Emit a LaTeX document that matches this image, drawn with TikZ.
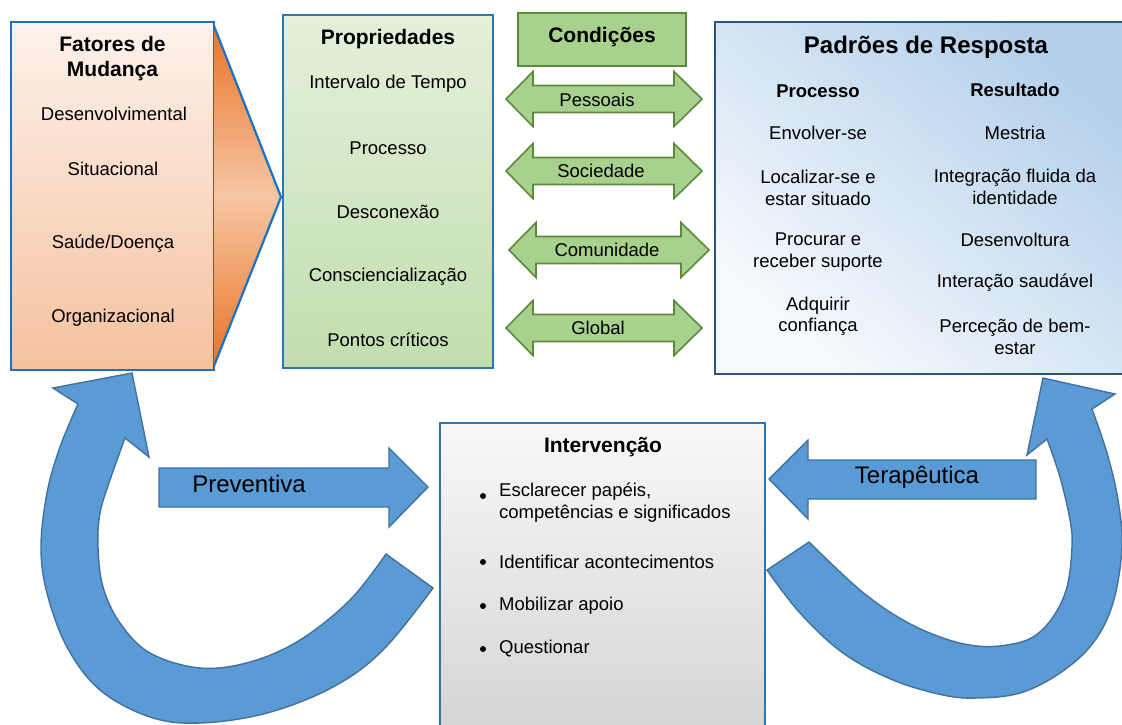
\documentclass[tikz,border=0pt]{standalone}
\usepackage{fontspec}
\setmainfont{Liberation Sans}
\definecolor{boxblue}{HTML}{1A72C0}
\definecolor{propblue}{HTML}{2E75B6}
\definecolor{darkblue}{HTML}{2A5580}
\definecolor{condfill}{HTML}{A9D18E}
\definecolor{condline}{HTML}{5A8A3A}
\definecolor{arrfill}{HTML}{5B9BD5}
\definecolor{arrline}{HTML}{41719C}
\definecolor{chevdark}{HTML}{A9501C}
\definecolor{chevorange}{HTML}{EC8440}
\definecolor{chevlight}{HTML}{F6C6A4}
\definecolor{fattop}{HTML}{FDF2EC}
\definecolor{fatbot}{HTML}{F5C19E}
\definecolor{proptop}{HTML}{F5F9F2}
\definecolor{propmid}{HTML}{BFDCAB}
\definecolor{propbot}{HTML}{CDE5BE}
\definecolor{padtop}{HTML}{B3CFEA}
\definecolor{padbot}{HTML}{F7FAFD}
\definecolor{inttop}{HTML}{F8F8F8}
\definecolor{intbot}{HTML}{D3D3D3}
\pgfdeclareverticalshading{chevsh}{100bp}{color(0bp)=(chevdark); color(8bp)=(chevdark); color(30bp)=(chevorange); color(50bp)=(chevlight); color(70bp)=(chevorange); color(92bp)=(chevdark); color(100bp)=(chevdark)}
\pgfdeclareverticalshading{propsh}{100bp}{color(0bp)=(propbot); color(22bp)=(propmid); color(100bp)=(proptop)}
\tikzset{
  body/.style={font=\fontsize{18.5}{21.5}\selectfont, align=center, inner sep=0pt},
  ttl/.style={font=\fontsize{21}{25}\selectfont\bfseries, align=center, inner sep=0pt},
  sub/.style={font=\fontsize{18.5}{21.5}\selectfont\bfseries, align=center, inner sep=0pt},
  big/.style={font=\fontsize{24}{28}\selectfont, inner sep=0pt},
  bigb/.style={font=\fontsize{24}{28}\selectfont\bfseries, inner sep=0pt},
  panel/.style={rectangle, anchor=north west, inner sep=0pt, outer sep=0pt},
  bulletdot/.style={circle, fill=black, inner sep=0pt, minimum size=6pt},
  greenarr/.style={fill=condfill, draw=condline, line width=1.6pt, line join=miter},
  bluearr/.style={fill=arrfill, draw=arrline, line width=1.4pt, line join=miter},
}
\newcommand{\condarrow}[3]{%
  \draw[greenarr] (#1,#3) -- (#1+27,#3-27.5) -- (#1+27,#3-13.5) -- (#2-28,#3-13.5) -- (#2-28,#3-27.5) -- (#2,#3)
     -- (#2-28,#3+27.5) -- (#2-28,#3+13.5) -- (#1+27,#3+13.5) -- (#1+27,#3+27.5) -- cycle;}
\begin{document}
\begin{tikzpicture}[x=1pt,y=-1pt]
\useasboundingbox (0,0) rectangle (1122,724);
\fill[white] (0,0) rectangle (1122,724);

% ---------- Fatores de Mudanca ----------
\node[panel, minimum width=203pt, minimum height=348pt, top color=fattop, bottom color=fatbot,
      draw=boxblue, line width=2.4pt] (fat) at (11,22) {};
\shade[shading=chevsh] (214,27) -- (281,197) -- (214,365) -- cycle;
\draw[boxblue, line width=2.2pt, line join=miter] (214,26) -- (281,197) -- (214,366);
\coordinate (chevtip) at (281,197);
\node[ttl] (fatT) at (112.5,59) {Fatores de\\Mudança};
\node[body] (fat1) at (114,114) {Desenvolvimental};
\node[body] (fat2) at (113,169) {Situacional};
\node[body] (fat3) at (113,244) {Saúde/Doença};
\node[body] (fat4) at (113,318) {Organizacional};

% ---------- Propriedades ----------
\node[panel, minimum width=210pt, minimum height=353pt, shading=propsh,
      draw=propblue, line width=2pt] (prop) at (283,15) {};
\node[ttl] (propT) at (388,39) {Propriedades};
\node[body] (prop1) at (388,84) {Intervalo de Tempo};
\node[body] (prop2) at (388,148) {Processo};
\node[body] (prop3) at (388,212) {Desconexão};
\node[body] (prop4) at (388,277) {Consciencialização};
\node[body] (prop5) at (388,340) {Pontos críticos};

% ---------- Condicoes ----------
\node[panel, minimum width=168pt, minimum height=53pt, fill=condfill,
      draw=condline, line width=2pt] (cond) at (518,13) {};
\node[ttl] (condT) at (602,37) {Condições};
\condarrow{506}{702}{99}
\condarrow{506}{702}{171}
\condarrow{509}{709}{250}
\condarrow{506}{702}{328}
\node[body] (c1) at (597,100) {Pessoais};
\node[body] (c2) at (601,171) {Sociedade};
\node[body] (c3) at (607,250) {Comunidade};
\node[body] (c4) at (598,328) {Global};

% ---------- Padroes de Resposta ----------
\node[panel, minimum width=420pt, minimum height=352pt, bottom color=padbot, top color=padtop,
      shading angle=-40, draw=darkblue, line width=2.6pt] (pad) at (715,22) {};
\node[bigb] (padT) at (926,47) {Padrões de Resposta};
\node[sub] (padP) at (818,91) {Processo};
\node[sub] (padR) at (1015,90) {Resultado};
\node[body] (p1) at (818,133) {Envolver-se};
\node[body] (p2) at (818,188) {Localizar-se e\\estar situado};
\node[body] (p3) at (818,252) {Procurar e\\receber suporte};
\node[body] (p4) at (818,316) {Adquirir\\confiança};
\node[body] (r1) at (1015,133) {Mestria};
\node[body] (r2) at (1015,187) {Integração fluida da\\identidade};
\node[body] (r3) at (1015,240) {Desenvoltura};
\node[body] (r4) at (1015,283) {Interação saudável};
\node[body] (r5) at (1015,337) {Perceção de bem-\\estar};

% ---------- Intervencao ----------
\node[panel, minimum width=325pt, minimum height=320pt, top color=inttop, bottom color=intbot,
      draw=propblue, line width=2pt] (int) at (440,423) {};
\node[ttl] (intT) at (603,447) {Intervenção};
\node[bulletdot] (b1) at (483,496) {};
\node[bulletdot] (b2) at (483,562) {};
\node[bulletdot] (b3) at (483,606) {};
\node[bulletdot] (b4) at (483,649) {};
\node[body, align=left, anchor=north west] (i1) at (499,483) {Esclarecer papéis,\\competências e significados};
\node[body, anchor=west] (i2) at (499,562) {Identificar acontecimentos};
\node[body, anchor=west] (i3) at (499,606) {Mobilizar apoio};
\node[body, anchor=west] (i4) at (499,649) {Questionar};

% ---------- Preventiva / Terapeutica ----------
\draw[bluearr] (159,468) -- (389,468) -- (389,448) -- (428,487) -- (389,527) -- (389,507) -- (159,507) -- cycle;
\node[big] (prev) at (249,484) {Preventiva};
\draw[bluearr] (1036,460) -- (808,460) -- (808,440) -- (769,479) -- (808,519) -- (808,499) -- (1036,499) -- cycle;
\node[big] (ter) at (917,477) {Terapêutica};

% ---------- curved arrows ----------
\filldraw[bluearr] plot[smooth,tension=0.6] coordinates {(433,588) (383,650) (333,687) (267,713) (200,723) (150,717) (100,690) (67,647) (47,593) (41,547) (47,493) (60,447) (78,404)}
  -- (53,388) -- (132,373) -- (149,457)
  -- plot[smooth,tension=0.6] coordinates {(125,438) (110,480) (100,513) (98,547) (103,587) (120,623) (150,653) (200,668) (250,662) (300,640) (350,600) (386,554)}
  -- cycle;
\filldraw[bluearr] plot[smooth,tension=0.6] coordinates {(767,570) (800,613) (843,653) (893,680) (943,695) (977,698) (1020,693) (1060,673) (1093,643) (1113,603) (1122,547) (1118,500) (1107,453) (1092,409)}
  -- (1115,394) -- (1043,378) -- (1027,455)
  -- plot[smooth,tension=0.6] coordinates {(1047,439) (1060,477) (1070,520) (1072,547) (1067,587) (1053,617) (1033,637) (1007,645) (977,646) (943,638) (903,620) (860,590) (809,542)}
  -- cycle;
\end{tikzpicture}
\end{document}
